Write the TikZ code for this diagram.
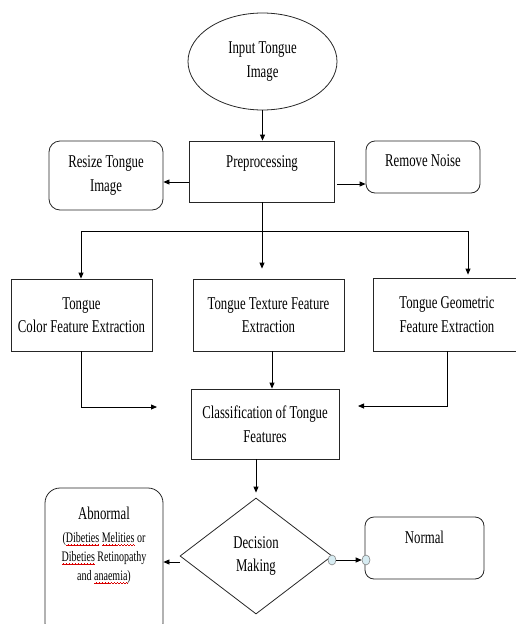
\documentclass[tikz,border=0pt]{standalone}
\usepackage{fontspec}
\setmainfont{Liberation Serif}[FakeStretch=0.71]
\newfontfamily\smallfam{Liberation Serif}[FakeStretch=0.69]
\usetikzlibrary{shapes.geometric,arrows.meta}
\newcommand\rwave[1]{\setbox0\hbox{#1}\rlap{\color{red!85!black}\lower 3pt\hbox to\wd0{\xleaders\hbox{\rule[0pt]{0.7pt}{0.5pt}\rule[0.5pt]{0.7pt}{0.5pt}\rule[1pt]{0.7pt}{0.5pt}\rule[0.5pt]{0.7pt}{0.5pt}}\hfill}}#1}
\newcommand\smallf{\smallfam\fontsize{14.5}{19}\selectfont}
\begin{document}
\begin{tikzpicture}[x=1pt,y=-1pt,
  font=\fontsize{18}{23.5}\selectfont,
  base/.style={draw=black!85, line width=0.8pt, align=center, inner sep=0pt},
  box/.style={base, rectangle},
  rbox/.style={base, rectangle, rounded corners=11pt},
  arr/.style={-{Triangle[length=6pt,width=5pt]}, line width=0.8pt},
  ln/.style={line width=0.8pt},
  dot/.style={ellipse, draw=black!50, fill={rgb,255:red,215;green,236;blue,242}, minimum width=8pt, minimum height=10pt, inner sep=0pt, line width=0.6pt}
]
\useasboundingbox (0,0) rectangle (516,624);
\clip (0,0) rectangle (516,624);

\node[base, ellipse, minimum width=149pt, minimum height=97pt] (input) at (262.5,61.5) {Input Tongue\\Image};
\node[box, minimum width=145pt, minimum height=61pt, text height=26pt, text depth=35pt] (pre) at (262,171.5) {Preprocessing};
\node[rbox, minimum width=114pt, minimum height=69pt] (resize) at (106,175.5) {Resize Tongue\\Image};
\node[rbox, rounded corners=9pt, minimum width=114pt, minimum height=52pt, text height=25pt, text depth=27pt] (noise) at (423,167) {Remove Noise};

\node[box, minimum width=141pt, minimum height=72pt] (color) at (81.5,315) {Tongue\\Color Feature Extraction};
\node[box, minimum width=151pt, minimum height=72pt] (tex) at (268.5,315) {Tongue Texture Feature\\Extraction};
\node[box, minimum width=148pt, minimum height=73pt] (geo) at (447,314.5) {Tongue Geometric\\Feature Extraction};
\node[box, minimum width=148pt, minimum height=70pt] (cls) at (265,424) {Classification of Tongue\\Features};

\node[base, diamond, aspect=1.31, minimum width=152pt, minimum height=116pt] (dec) at (256,556) {Decision\\Making};
\node[rbox, rounded corners=9pt, minimum width=119pt, minimum height=62pt, text height=26pt, text depth=36pt] (normal) at (424.5,548) {Normal};
\node[rbox, rounded corners=15pt, minimum width=118pt, minimum height=150pt, text height=31pt, text depth=119pt] (abn) at (104,563)
 {\begin{tabular}[t]{@{}c@{}}Abnormal\\
  {\smallf(\rwave{Dibeties} \rwave{Melities} or}\\[-4.5pt]
  {\smallf\rwave{Dibeties} Retinopathy}\\[-4.5pt]
  {\smallf and \rwave{anaemia})}\end{tabular}};

% connectors
\draw[arr] (input.south) -- (input.south |- pre.north);
\draw[arr] ([yshift=-10.5pt]pre.west) -- ([yshift=-10.5pt]pre.west -| resize.east);
\draw[arr] ([xshift=2pt,yshift=-12.5pt]pre.east) -- ([yshift=-12.5pt]pre.east -| noise.west);

\coordinate (busL) at (81,231);
\coordinate (busR) at (468,231);
\draw[ln] (busL) -- (busR);
\draw[arr] (busL) -- (busL |- color.north);
\draw[arr, shorten >=3pt] (busR) -- (busR |- geo.north);
\draw[arr, shorten >=10pt] (pre.south) -- (pre.south |- tex.north);

\coordinate (inL) at (157,407);
\coordinate (inR) at (358,406);
\draw[arr] (color.south) |- (inL);
\draw[arr] ([xshift=3.5pt]tex.south) -- ([xshift=3.5pt]tex.south |- cls.north);
\draw[arr] (geo.south) |- (inR);

\draw[arr, shorten >=5pt] (dec.north |- cls.south) -- (dec.north);
\draw[arr] ([yshift=-6pt]dec.west) -- ([yshift=-6pt]dec.west -| abn.east);

\node[dot] (d1) at (332,560) {};
\node[dot] (d2) at (366,560) {};
\draw[arr] (d1) -- (d2);
\end{tikzpicture}
\end{document}
